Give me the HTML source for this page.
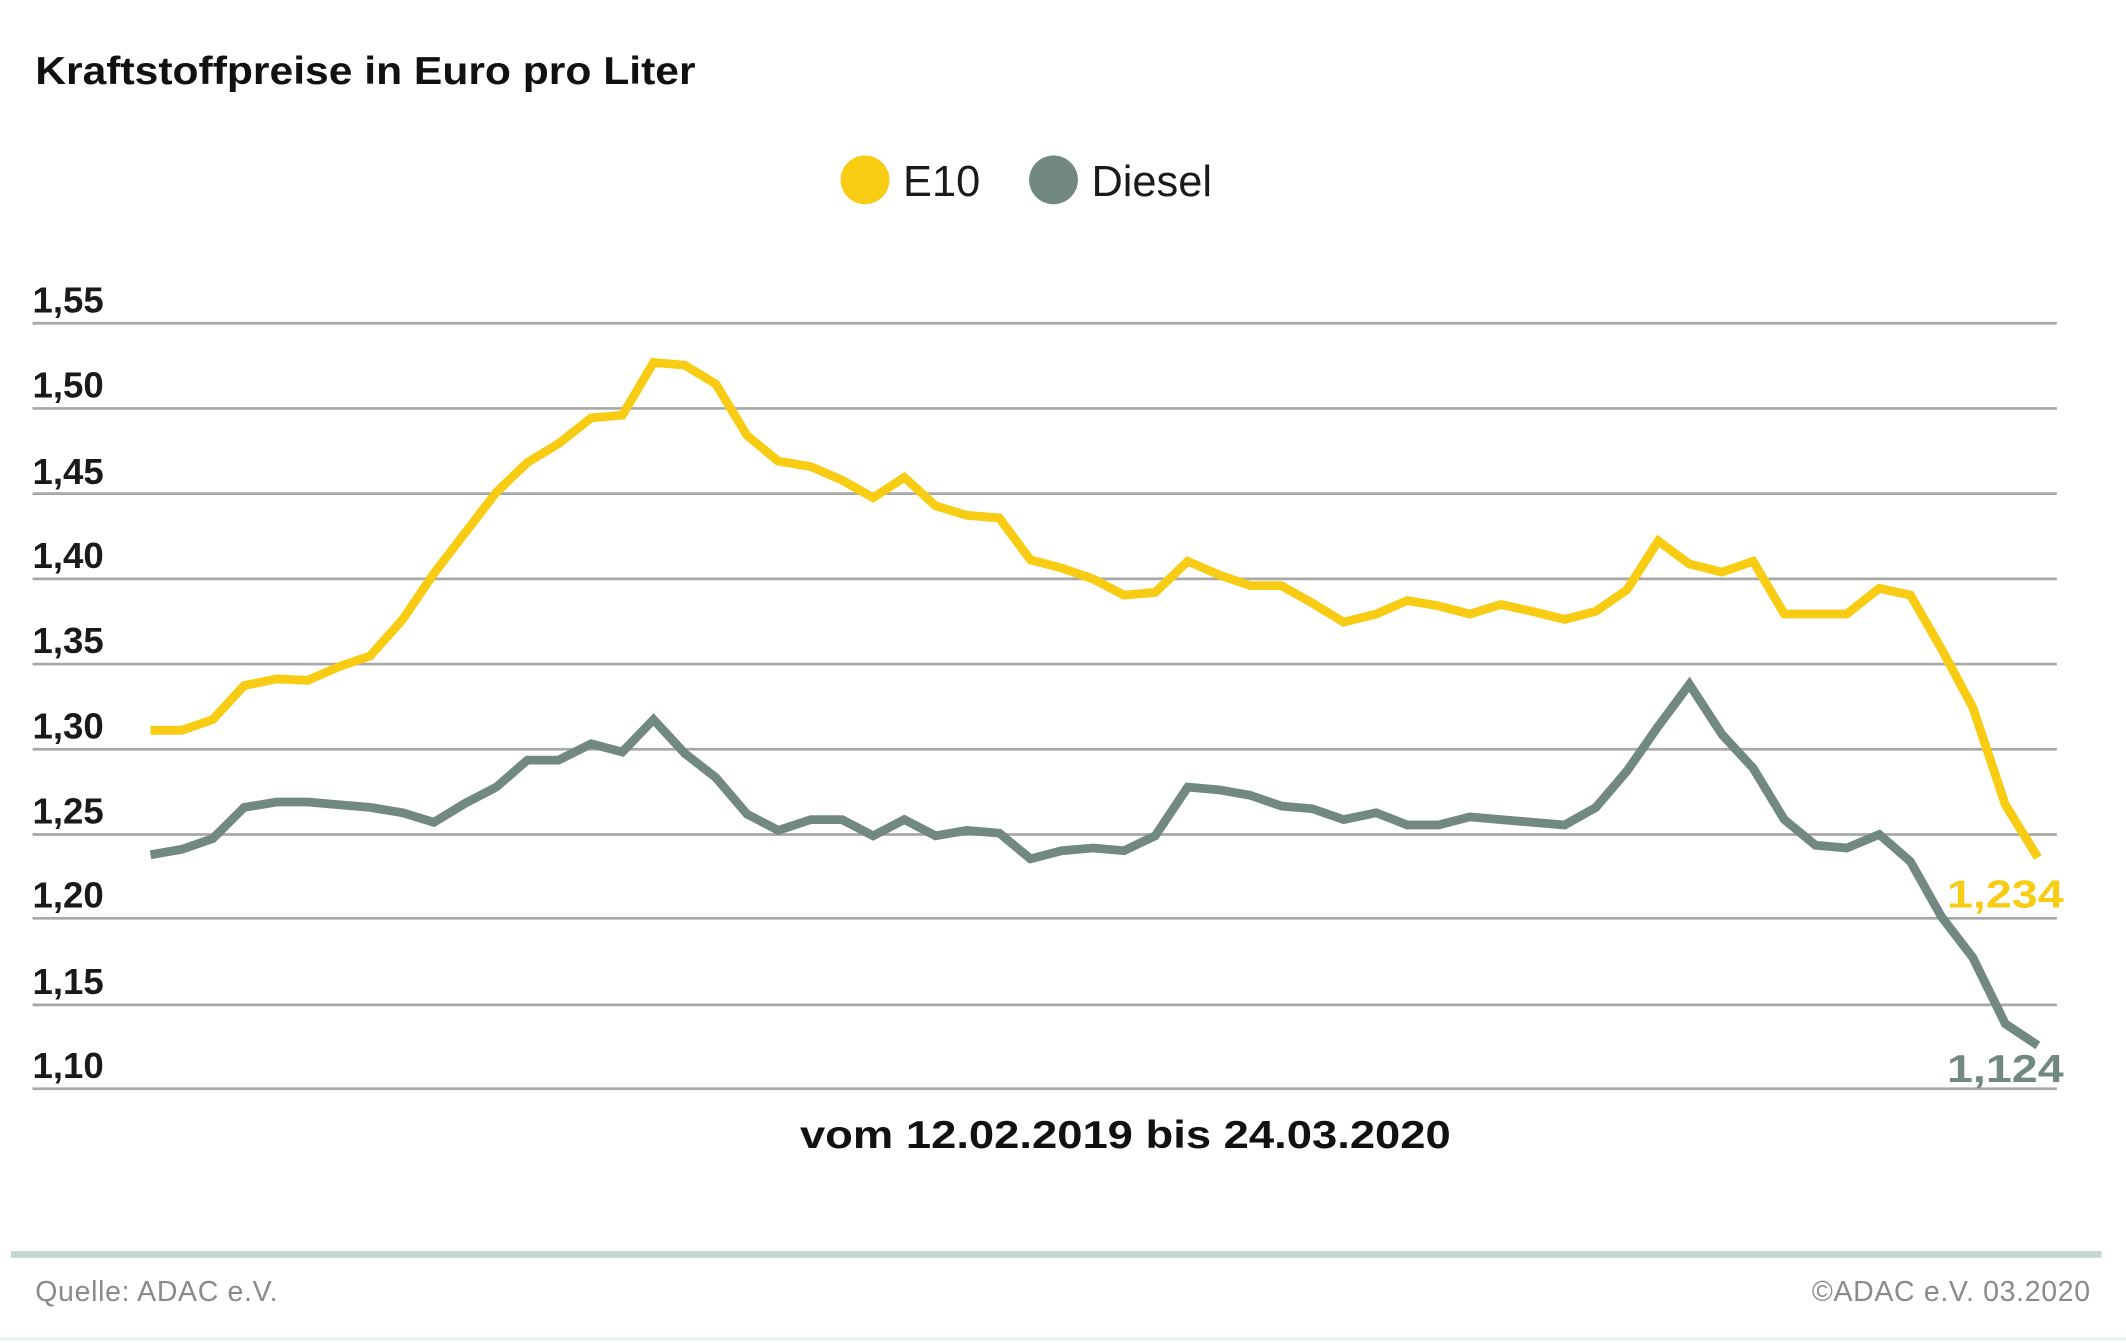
<!DOCTYPE html>
<html><head><meta charset="utf-8"><style>
html,body{margin:0;padding:0;background:#fff;}
svg{display:block;}
text{font-family:"Liberation Sans",sans-serif;}
</style></head><body>
<svg width="2126" height="1343" viewBox="0 0 1568 993" preserveAspectRatio="none" xmlns="http://www.w3.org/2000/svg">
<rect width="1568" height="993" fill="#fff"/>
<text x="26" y="62" font-size="29" font-weight="bold" fill="#111" textLength="487" lengthAdjust="spacingAndGlyphs">Kraftstoffpreise in Euro pro Liter</text>
<circle cx="638" cy="133" r="18" fill="#F9CC14"/>
<text x="666" y="145" font-size="32" fill="#1a1a1a">E10</text>
<circle cx="777" cy="133" r="18" fill="#728883"/>
<text x="805" y="145" font-size="32" fill="#1a1a1a">Diesel</text>
<g stroke="#a8a8a8" stroke-width="2">
<line x1="24" y1="239" x2="1517" y2="239"/>
<line x1="24" y1="302" x2="1517" y2="302"/>
<line x1="24" y1="365" x2="1517" y2="365"/>
<line x1="24" y1="428" x2="1517" y2="428"/>
<line x1="24" y1="491" x2="1517" y2="491"/>
<line x1="24" y1="554" x2="1517" y2="554"/>
<line x1="24" y1="617" x2="1517" y2="617"/>
<line x1="24" y1="679" x2="1517" y2="679"/>
<line x1="24" y1="743" x2="1517" y2="743"/>
<line x1="24" y1="805" x2="1517" y2="805"/>
</g>
<g font-size="27" fill="#1a1a1a" font-weight="bold">
<text x="24" y="231">1,55</text>
<text x="24" y="294">1,50</text>
<text x="24" y="358">1,45</text>
<text x="24" y="420">1,40</text>
<text x="24" y="483">1,35</text>
<text x="24" y="546">1,30</text>
<text x="24" y="609">1,25</text>
<text x="24" y="671">1,20</text>
<text x="24" y="735">1,15</text>
<text x="24" y="797">1,10</text>
</g>
<polyline fill="none" stroke="#F9CC14" stroke-width="6.5" points="111,540 134,540 157,532 180,507 204,502 227,503 250,493 273,485 297,458 320,424 343,394 366,364 389,342 412,328 436,309 459,307 482,268 505,270 528,284 551,322 574,341 598,345 621,355 644,368 667,353 690,374 713,381 737,383 760,414 783,420 806,428 829,440 852,438 876,415 899,425 922,433 945,433 968,446 991,460 1015,454 1038,444 1061,448 1084,454 1107,447 1130,452 1154,458 1177,452 1200,436 1223,400 1246,417 1270,423 1293,415 1316,454 1339,454 1362,454 1386,435 1409,440 1432,480 1455,523 1479,595 1503,634"/>
<polyline fill="none" stroke="#728883" stroke-width="6.5" points="111,632 134,628 157,620 180,597 204,593 227,593 250,595 273,597 297,601 320,608 343,594 366,582 389,562 412,562 436,550 459,556 482,532 505,557 528,575 551,602 574,614 598,606 621,606 644,618 667,606 690,618 713,614 737,616 760,635 783,629 806,627 829,629 852,618 876,582 899,584 922,588 945,596 968,598 991,606 1015,601 1038,610 1061,610 1084,604 1107,606 1130,608 1154,610 1177,597 1200,570 1223,537 1246,506 1270,543 1293,568 1316,606 1339,625 1362,627 1386,617 1409,637 1432,678 1455,708 1479,757 1503,773"/>
<text x="1436" y="671" font-size="29" font-weight="bold" fill="#F9CC14" textLength="86" lengthAdjust="spacingAndGlyphs">1,234</text>
<text x="1436" y="800" font-size="29" font-weight="bold" fill="#728883" textLength="86" lengthAdjust="spacingAndGlyphs">1,124</text>
<text x="590" y="849" font-size="29" font-weight="bold" fill="#111" textLength="480" lengthAdjust="spacingAndGlyphs" style="font-weight:600">vom 12.02.2019 bis 24.03.2020</text>
<rect x="8" y="925" width="1542" height="5" fill="#c5d6d0"/>
<text x="26" y="962" font-size="21" fill="#8a8a8a" letter-spacing="0.5">Quelle: ADAC e.V.</text>
<text x="1542" y="962" text-anchor="end" font-size="21" fill="#8a8a8a" letter-spacing="0.5">©ADAC e.V.  03.2020</text>
<rect x="0" y="989" width="1568" height="2" fill="#e6eeee"/>
</svg>
</body></html>
